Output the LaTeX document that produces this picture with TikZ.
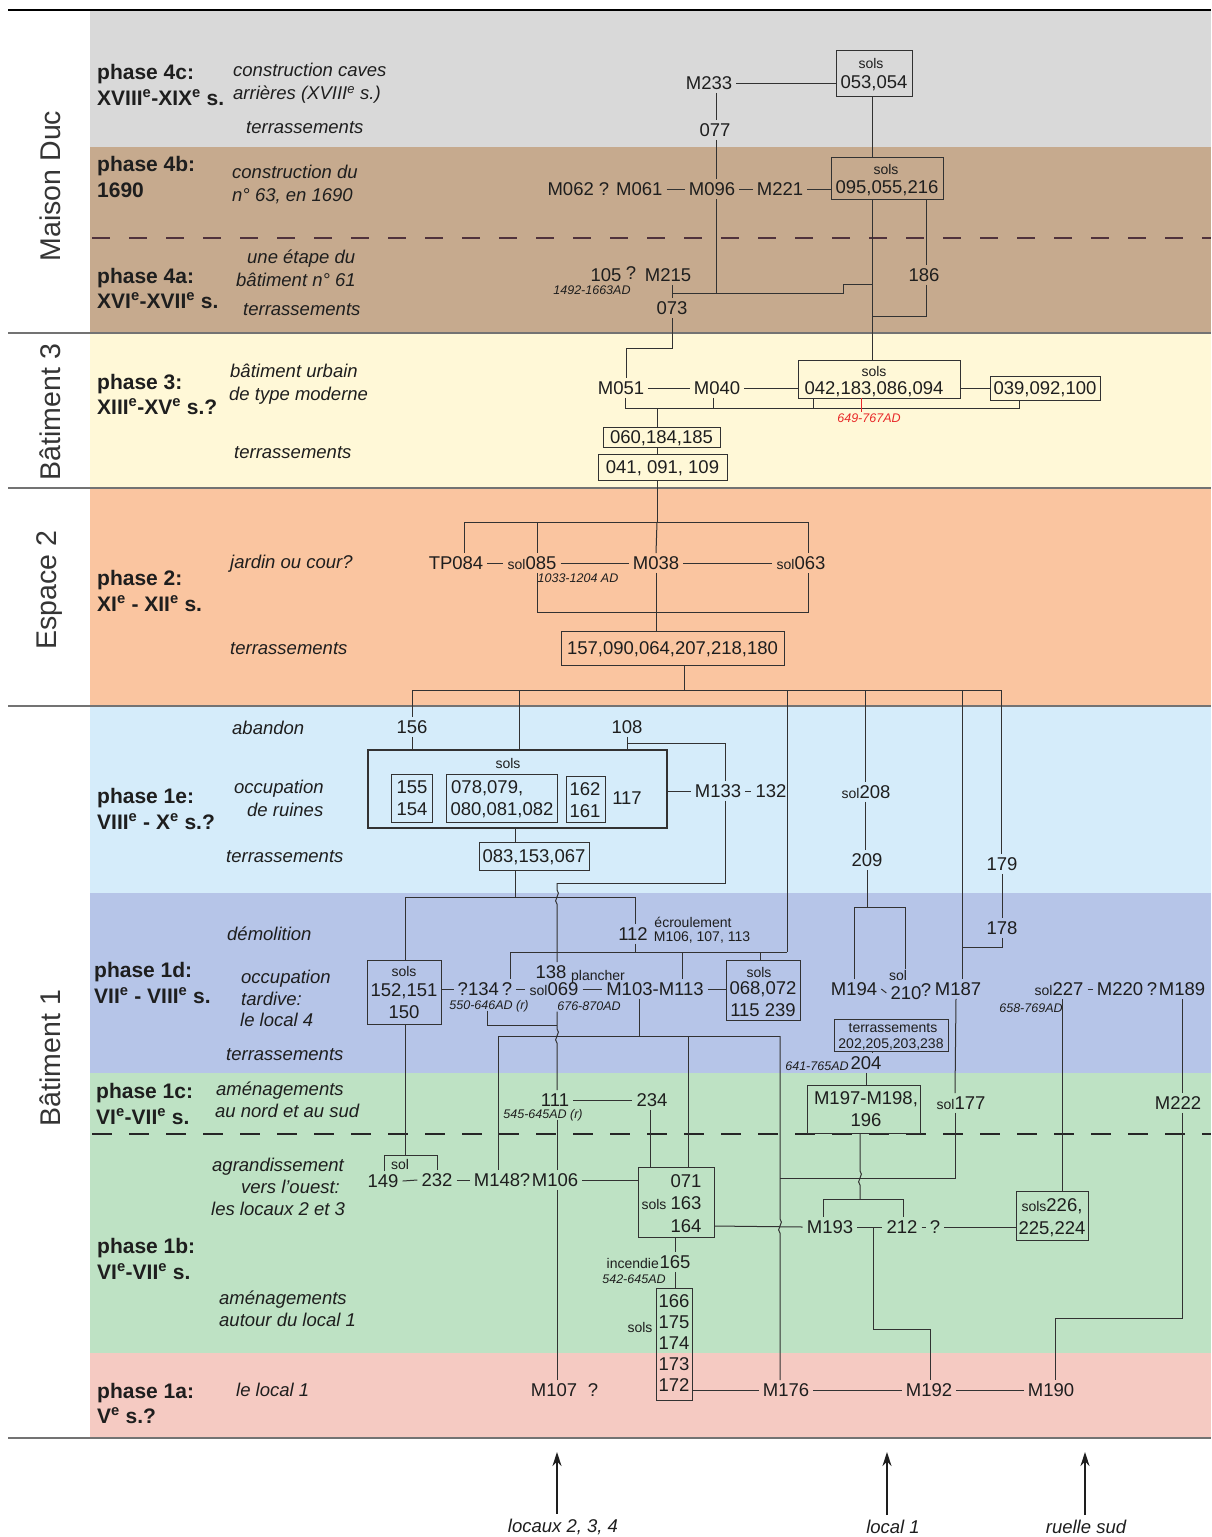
\documentclass[tikz,border=0pt]{standalone}
\usepackage{fontspec}
\setmainfont{Liberation Sans}
\usetikzlibrary{arrows.meta}
\definecolor{cgray}{RGB}{217,217,217}
\definecolor{cbrown}{RGB}{198,170,142}
\definecolor{cyel}{RGB}{255,248,215}
\definecolor{corg}{RGB}{250,197,160}
\definecolor{clblue}{RGB}{213,236,250}
\definecolor{cblue}{RGB}{182,197,232}
\definecolor{cgreen}{RGB}{190,226,196}
\definecolor{cpink}{RGB}{245,202,194}
\definecolor{txt}{RGB}{30,30,30}
\definecolor{lin}{RGB}{50,50,50}
\definecolor{cred}{RGB}{232,40,40}
\definecolor{cdash}{RGB}{80,50,60}
\newcommand\fbig{\fontsize{18.5}{21}\selectfont}
\newcommand\fsml{\fontsize{14}{16}\selectfont}
\newcommand\fdat{\fontsize{12.5}{14}\selectfont\itshape}
\newcommand\fphs{\fontsize{21}{26}\selectfont\bfseries}
\newcommand\fdsc{\fontsize{18.5}{23}\selectfont\itshape}
\newcommand\fside{\fontsize{28.5}{30}\selectfont}
\tikzset{
 nb/.style={font=\fbig, text=txt, inner xsep=4pt, inner ysep=3pt, text height=13.3pt, text depth=0pt},
 ns/.style={font=\fsml, text=txt, inner sep=1pt, text height=10pt, text depth=0pt},
 nd/.style={font=\fdat, text=txt, inner sep=1pt, text height=9pt, text depth=0pt},
 bx/.style={draw=lin, line width=1pt, inner sep=0pt, outer sep=0pt, text=txt, font=\fbig, text height=13.3pt, text depth=0pt},
 cn/.style={draw=lin, line width=1pt},
 ph/.style={font=\fphs, text=txt, anchor=west, inner sep=0pt, text height=15pt, text depth=0pt},
 ds/.style={font=\fdsc, text=txt, anchor=west, inner sep=0pt, text height=13.3pt, text depth=0pt},
 side/.style={font=\fside, text=txt!90, rotate=90},
 sep/.style={draw=black!55, line width=1.3pt},
 arr/.style={draw=txt, line width=1.3pt, -{Stealth[length=14pt,width=9pt]}},
}
\begin{document}
\begin{tikzpicture}[x=1pt,y=-1pt]
\useasboundingbox (0,0) rectangle (1211,1537);
\fill[white] (0,0) rectangle (1211,1537);
% ---------- bands
\fill[cgray] (90,10) rectangle (1211,147);
\fill[cbrown] (90,147) rectangle (1211,333);
\fill[cyel] (90,333) rectangle (1211,488);
\fill[corg] (90,488) rectangle (1211,706);
\fill[clblue] (90,706) rectangle (1211,893);
\fill[cblue] (90,893) rectangle (1211,1073);
\fill[cgreen] (90,1073) rectangle (1211,1353);
\fill[cpink] (90,1353) rectangle (1211,1438);
\draw[black, line width=1.3pt] (8,10) -- (1211,10);
\draw[sep] (8,333) -- (1211,333);
\draw[sep] (8,488) -- (1211,488);
\draw[sep] (8,706) -- (1211,706);
\draw[sep] (8,1438) -- (1211,1438);
\draw[cdash, line width=2pt, dash pattern=on 18pt off 19pt] (92,238) -- (1211,238);
\draw[black!85, line width=2pt, dash pattern=on 20pt off 17pt] (92,1134) -- (1211,1134);
% ---------- side labels
\node[side] (sMD) at (50,186) {Maison Duc};
\node[side] (sB3) at (50,412) {Bâtiment 3};
\node[side] (sE2) at (50,590) {Espace 2};
\node[side] (sB1) at (50,1058) {Bâtiment 1};
% ---------- phase labels
\node[ph] (p4c1) at (97,72) {phase 4c:};
\node[ph] (p4c2) at (97,98) {XVIII\textsuperscript{e}-XIX\textsuperscript{e} s.};
\node[ph] (p4b1) at (97,164) {phase 4b:};
\node[ph] (p4b2) at (97,190) {1690};
\node[ph] (p4a1) at (97,276) {phase 4a:};
\node[ph] (p4a2) at (97,301) {XVI\textsuperscript{e}-XVII\textsuperscript{e} s.};
\node[ph] (p31) at (97,382) {phase 3:};
\node[ph] (p32) at (97,407) {XIII\textsuperscript{e}-XV\textsuperscript{e} s.?};
\node[ph] (p21) at (97,578) {phase 2:};
\node[ph] (p22) at (97,604) {XI\textsuperscript{e} - XII\textsuperscript{e} s.};
\node[ph] (p1e1) at (97,796) {phase 1e:};
\node[ph] (p1e2) at (97,822) {VIII\textsuperscript{e} - X\textsuperscript{e} s.?};
\node[ph] (p1d1) at (94,970) {phase 1d:};
\node[ph] (p1d2) at (94,996) {VII\textsuperscript{e} - VIII\textsuperscript{e} s.};
\node[ph] (p1c1) at (96,1091) {phase 1c:};
\node[ph] (p1c2) at (96,1117) {VI\textsuperscript{e}-VII\textsuperscript{e} s.};
\node[ph] (p1b1) at (97,1246) {phase 1b:};
\node[ph] (p1b2) at (97,1272) {VI\textsuperscript{e}-VII\textsuperscript{e} s.};
\node[ph] (p1a1) at (97,1391) {phase 1a:};
\node[ph] (p1a2) at (97,1416) {V\textsuperscript{e} s.?};
% ---------- descriptions
\node[ds] (d01) at (233,70) {construction caves};
\node[ds] (d02) at (233,93) {arrières (XVIII\textsuperscript{e} s.)};
\node[ds] (d03) at (246,127) {terrassements};
\node[ds] (d04) at (232,172) {construction du};
\node[ds] (d05) at (232,195) {n° 63, en 1690};
\node[ds] (d06) at (247,257) {une étape du};
\node[ds] (d07) at (236,280) {bâtiment n° 61};
\node[ds] (d08) at (243,309) {terrassements};
\node[ds] (d09) at (230,371) {bâtiment urbain};
\node[ds] (d10) at (229,394) {de type moderne};
\node[ds] (d11) at (234,452) {terrassements};
\node[ds] (d12) at (230,562) {jardin ou cour?};
\node[ds] (d13) at (230,648) {terrassements};
\node[ds] (d14) at (232,728) {abandon};
\node[ds] (d15) at (234,787) {occupation};
\node[ds] (d16) at (247,810) {de ruines};
\node[ds] (d17) at (226,856) {terrassements};
\node[ds] (d18) at (227,934) {démolition};
\node[ds] (d19) at (241,977) {occupation};
\node[ds] (d20) at (241,999) {tardive:};
\node[ds] (d21) at (240,1020) {le local 4};
\node[ds] (d22) at (226,1054) {terrassements};
\node[ds] (d23) at (216,1089) {aménagements};
\node[ds] (d24) at (215,1111) {au nord et au sud};
\node[ds] (d25) at (212,1165) {agrandissement};
\node[ds] (d26) at (241,1187) {vers l'ouest:};
\node[ds] (d27) at (211,1209) {les locaux 2 et 3};
\node[ds] (d28) at (219,1298) {aménagements};
\node[ds] (d29) at (219,1320) {autour du local 1};
\node[ds] (d30) at (236,1390) {le local 1};
% ================= PHASE 4
\node[nb] (M233) at (709,83) {M233};
\node[bx, minimum width=76pt, minimum height=46pt] (b053) at (874,73) {};
\node[ns] (b053s) at (871,63) {sols};
\node[nb] (b053t) at (874,82) {053,054};
\node[nb] (n077) at (715,130) {077};
\node[nb] (M062) at (605,189) {M062 ? M061};
\node[nb] (M096) at (712,189) {M096};
\node[nb] (M221) at (780,189) {M221};
\node[bx, minimum width=112pt, minimum height=42pt] (b095) at (887,178) {};
\node[ns] (b095s) at (886,169) {sols};
\node[nb] (b095t) at (887,187) {095,055,216};
\node[nb] (n105) at (606,275) {105};
\node[nb] (q105) at (631,273) {?};
\node[nb] (M215) at (668,275) {M215};
\node[nd] (d1492) at (592,290) {1492-1663AD};
\node[nb] (n073) at (672,308) {073};
\node[nb] (n186) at (924,275) {186};
\coordinate (j293) at (672,293);
\coordinate (j716) at (716,293);
\coordinate (j843a) at (843,293);
\coordinate (j843b) at (843,284);
\coordinate (j284) at (872,284);
\coordinate (j316) at (872,316);
\coordinate (m348) at (672,348);
\draw[cn] (M233.east) -- (M233.east -| b053.west);
\draw[cn] ([xshift=7pt]M233.south) -- ([xshift=1pt]n077.north);
\draw[cn] ([xshift=1pt]n077.south) -- ([xshift=4pt]M096.north);
\draw[cn] ([xshift=-2pt]b053.south) -- ([xshift=-15pt]b095.north);
\draw[cn] (M062.east) -- (M096.west);
\draw[cn] (M096.east) -- (M221.west);
\draw[cn] (M221.east) -- (M221.east -| b095.west);
\draw[cn] ([xshift=4pt]M096.south) -- (j716);
\draw[cn] (M215.south -| j293) -- (j293) -- (j843a) -- (j843b) -- (j284);
\draw[cn] (j293) -- (n073.north);
\draw[cn] ([xshift=39pt]b095.south) -- ([xshift=2pt]n186.north);
\draw[cn] ([xshift=2pt]n186.south) |- (j316);
% ================= PHASE 3
\node[nb] (M051) at (621,388) {M051};
\node[nb] (M040) at (717,388) {M040};
\node[bx, minimum width=162pt, minimum height=38pt] (b042) at (879,379) {};
\node[ns] (b042s) at (874,371) {sols};
\node[nb] (b042t) at (874,388) {042,183,086,094};
\node[bx, minimum width=110pt, minimum height=24pt] (b039) at (1045,388) {039,092,100};
\node[nd, text=cred] (d649) at (869,418) {649-767AD};
\draw[cn] (n073.south) -- (m348) -| ([xshift=5pt]M051.north);
\draw[cn] ([xshift=-15pt]b095.south) -- ([xshift=-7pt]b042.north);
\draw[cn] (M051.east) -- (M040.west);
\draw[cn] (M040.east) -- (M040.east -| b042.west);
\draw[cn] (b042t.east -| b042.east) -- (b039.west);
\coordinate (k625) at (625,408);
\coordinate (k713) at (713,408);
\coordinate (k813) at (813,408);
\coordinate (k1019) at (1019,408);
\coordinate (d657) at (657,408);
\draw[cn] ([xshift=4pt]M051.south) -- (k625) -- (k1019) -- (b039.south -| k1019);
\draw[cn] ([xshift=-4pt]M040.south) -- (k713);
\draw[cn] (b042.south -| k813) -- (k813);
\draw[cred, line width=1pt] ([xshift=-18pt]b042.south) -- ([xshift=-8pt]d649.north);
\node[bx, minimum width=117pt, minimum height=20pt] (b060) at (661.5,437) {060,184,185};
\node[bx, minimum width=129pt, minimum height=26pt] (b041) at (662.5,467) {041, 091, 109};
\coordinate (j522) at (657,522);
\draw[cn] (d657) -- (b060.north -| d657);
\draw[cn] (b060.south -| d657) -- (b041.north -| d657);
\draw[cn] (b041.south -| d657) -- (j522);
% ================= PHASE 2
\node[nb] (TP084) at (456,563) {TP084};
\node[nb] (s085) at (532,563) {{\fsml sol}085};
\node[nb] (M038) at (656,563) {M038};
\node[nb] (s063) at (801,563) {{\fsml sol}063};
\node[nd] (d1033) at (578,578) {1033-1204 AD};
\coordinate (p464) at (464,522);
\coordinate (p537) at (537,522);
\coordinate (p808) at (808,522);
\coordinate (p537b) at (537,612);
\coordinate (p808b) at (808,612);
\draw[cn] (p464) -- (p808);
\draw[cn] (p464) -- (p464 |- TP084.north);
\draw[cn] (p537) -- (p537 |- s085.north);
\draw[cn] (p808) -- (p808 |- s063.north);
\draw[cn] (j522) -- (M038.north);
\draw[cn] (TP084.east) -- (s085.west);
\draw[cn] (s085.east) -- (M038.west);
\draw[cn] (M038.east) -- (s063.west);
\draw[cn] (p537 |- s085.south) -- (p537b) -- (p808b) -- (p808 |- s063.south);
\node[bx, minimum width=223pt, minimum height=34pt] (b157) at (672.5,648) {157,090,064,207,218,180};
\draw[cn] (M038.south) -- (M038.south |- b157.north);
\coordinate (j690) at (684,690);
\coordinate (q412) at (412,690);
\coordinate (q519) at (519,690);
\coordinate (q787) at (787,690);
\coordinate (q865) at (865,690);
\coordinate (q962) at (962,690);
\coordinate (q1001) at (1001,690);
\draw[cn] (b157.south -| j690) -- (j690);
\draw[cn] (q412) -- (q1001);
% ================= PHASE 1e
\node[nb] (n156) at (412,727) {156};
\node[nb] (n108) at (627,727) {108};
\node[bx, line width=2pt, minimum width=299pt, minimum height=78pt] (bsol) at (517.5,789) {};
\node[ns] (bsols) at (508,763) {sols};
\node[bx, minimum width=41pt, minimum height=48pt] (b155) at (411.5,798) {};
\node[nb] (n155) at (412,787) {155};
\node[nb] (n154) at (412,809) {154};
\node[bx, minimum width=111pt, minimum height=48pt] (b078) at (501.5,798) {};
\node[nb, anchor=west] (n078) at (447,787) {078,079,};
\node[nb] (n080) at (502,809) {080,081,082};
\node[bx, minimum width=39pt, minimum height=46pt] (b162) at (585.5,799) {};
\node[nb] (n162) at (585,789) {162};
\node[nb] (n161) at (585,811) {161};
\node[nb] (n117) at (627,798) {117};
\node[nb] (M133) at (718,791) {M133};
\node[nb] (n132) at (771,791) {132};
\node[bx, minimum width=110pt, minimum height=28pt] (b083) at (534,856) {083,153,067};
\coordinate (r743) at (627,743);
\coordinate (r725) at (725,743);
\coordinate (r883) at (725,883);
\coordinate (k883) at (557,883);
\draw[cn] (q412) -- (n156.north);
\draw[cn] (n156.south) -- (n156.south |- bsol.north);
\draw[cn] (q519) -- (q519 |- bsol.north);
\draw[cn] (n108.south) -- (n108.south |- bsol.north);
\draw[cn] (r743) -- (r725) -- ([xshift=7pt]M133.north);
\draw[cn] ([xshift=7pt]M133.south) -- (r883) -- (k883);
\draw[cn] (bsol.east |- M133) -- (M133.west);
\draw[cn] (M133.east) -- (n132.west);
\draw[cn] ([xshift=-2.5pt]bsol.south) -- ([xshift=-19pt]b083.north);
\coordinate (s897) at (515,897);
\coordinate (s405) at (405,897);
\coordinate (s635) at (635,897);
\draw[cn] ([xshift=-19pt]b083.south) -- (s897);
\draw[cn] (s405) -- (s635);
\node[nb] (s208) at (866,792) {{\fsml sol}208};
\node[nb] (n209) at (867,860) {209};
\node[nb] (n179) at (1002,864) {179};
\node[nb] (n178) at (1002,928) {178};
\draw[cn] (q865) -- (q865 |- s208.north);
\draw[cn] (s208.south -| q865) -- (n209.north -| q865);
\draw[cn] (q1001) -- (q1001 |- n179.north);
\draw[cn] (n179.south) -- (n178.north);
\coordinate (t787) at (787,952);
\coordinate (t947) at (962,947);
\draw[cn] (q787) -- (t787);
\draw[cn] (n178.south) |- (t947);
% ================= PHASE 1d
\node[nb] (n112) at (633,934) {112};
\node[ns] (ecr) at (693,922) {écroulement};
\node[ns] (m106s) at (702,936) {M106, 107, 113};
\coordinate (t635) at (635,952);
\coordinate (t510) at (510,952);
\coordinate (t682) at (682,952);
\coordinate (t760) at (760,952);
\draw[cn] (s635) -- (s635 |- n112.north);
\draw[cn] (s635 |- n112.south) -- (t635);
\draw[cn] (t510) -- (t787);
\node[bx, minimum width=74pt, minimum height=64pt] (b152) at (404,992) {};
\node[ns] (b152s) at (404,971) {sols};
\node[nb] (b152a) at (404,990) {152,151};
\node[nb] (b152b) at (404,1012) {150};
\node[nb] (q134) at (485,989) {?134\,?};
\node[nd] (d550) at (489,1005) {550-646AD (r)};
\node[nb] (s069) at (554,989) {{\fsml sol}069};
\node[nb] (n138) at (551,972) {138};
\node[ns] (planch) at (598,975) {plancher};
\node[nd] (d676) at (589,1006) {676-870AD};
\node[nb] (M103) at (655,989) {M103-M113};
\node[bx, minimum width=74pt, minimum height=60pt] (b068) at (763,990) {};
\node[ns] (b068s) at (759,972) {sols};
\node[nb] (b068a) at (763,988) {068,072};
\node[nb] (b068b) at (763,1010) {115 239};
\draw[cn] (s405) -- (s405 |- b152.north);
\draw[cn] (t510) -- (t510 |- q134.north);
\draw[cn] (t682) -- (t682 |- M103.north);
\draw[cn] (t760) -- (t760 |- b068.north);
\draw[cn] (b152.east |- q134) -- (q134.west);
\draw[cn] (q134.east) -- (s069.west);
\draw[cn] (s069.east) -- (M103.west);
\draw[cn] (M103.east) -- (M103.east -| b068.west);
\coordinate (u487) at (487,1025);
\coordinate (u557) at (557,1025);
\draw[cn] (d550.south -| u487) -- (u487) -- (u557);
\coordinate (v639) at (639,1036);
\coordinate (v498) at (498,1036);
\coordinate (v688) at (688,1036);
\coordinate (v780) at (780,1036);
\draw[cn] (M103.south -| v639) -- (v639);
\draw[cn] (v498) -- (v780);
% right side 1d
\node[nb] (M194) at (854,989) {M194};
\node[nb] (n210) at (906,993) {210};
\node[ns] (s210) at (898,975) {sol};
\node[nb] (q210) at (926,990) {?};
\node[nb] (M187) at (958,989) {M187};
\coordinate (w854) at (854,907);
\coordinate (w905) at (905,907);
\coordinate (w867) at (867,907);
\draw[cn] (M194.east) -- (n210.west);
\draw[cn] (M194.north) -- (w854) -- (w905) -- (w905 |- s210.north);
\draw[cn] (n209.south -| w867) -- (w867);
\draw[cn] (q962) -- (q962 |- M187.north);
\node[nb] (s227) at (1059,989) {{\fsml sol}227};
\node[nb] (M220) at (1120,989) {M220};
\node[nb] (q220) at (1152,989) {?};
\node[nb] (M189) at (1182,989) {M189};
\node[nd] (d658) at (1031,1008) {658-769AD};
\draw[cn] (s227.east) -- (M220.west);
\node[bx, minimum width=114pt, minimum height=32pt] (bter) at (891,1035) {};
\node[ns] (bters) at (893,1027) {terrassements};
\node[ns] (btert) at (891,1043) {202,205,203,238};
\node[nb] (n204) at (866,1063) {204};
\node[nd] (d641) at (817,1066) {641-765AD};
\draw[cn] ([xshift=-19pt]bter.south) -- ([xshift=6pt]n204.north);
% ================= PHASE 1c
\node[nb] (n111) at (555,1100) {111};
\node[nd] (d545) at (543,1114) {545-645AD (r)};
\node[nb] (n234) at (652,1100) {234};
\draw[cn] (n111.east) -- (n234.west);
\node[bx, minimum width=113pt, minimum height=48pt] (bM197) at (863.5,1109) {};
\node[nb] (M197a) at (866,1098) {M197-M198,};
\node[nb] (M197b) at (866,1120) {196};
\draw[cn] (n204.south) -- (n204.south |- bM197.north);
\node[nb] (s177) at (961,1103) {{\fsml sol}177};
\node[nb] (M222) at (1178,1103) {M222};
\draw[cn] ([xshift=-2pt]M187.south) -- ([xshift=-6pt]s177.north);
\draw[cn] (M189.south) -- (M189.south |- M222.north);
\coordinate (a955) at (955,1178);
\coordinate (a780) at (780,1178);
\draw[cn] ([xshift=-6pt]s177.south) -- (a955) -- (a780);
% ================= PHASE 1b
\node[nb] (n149) at (383,1181) {149};
\node[nb] (n232) at (437,1180) {232};
\node[ns] (s149) at (400,1164) {sol};
\node[nb] (M148) at (497,1180) {M148};
\node[nb] (q148) at (525,1180) {?};
\node[nb] (M106) at (555,1180) {M106};
\coordinate (c384) at (384,1155);
\coordinate (c437) at (437,1155);
\coordinate (c405) at (405,1155);
\draw[cn] (b152.south -| c405) -- (c405);
\draw[cn] (c384 |- n149.north) -- (c384) -- (c437) -- (n232.north);
\draw[cn] (n149.east) -- (n232.west);
\draw[cn] (n232.east) -- (M148.west);
\draw[cn] (v498) -- (v498 |- M148.north);
\node[bx, minimum width=76pt, minimum height=70pt] (b071) at (676,1202) {};
\node[nb] (n071) at (686,1181) {071};
\node[nb] (n163) at (686,1203) {163};
\node[nb] (n164) at (686,1226) {164};
\node[ns] (s163) at (654,1204) {sols};
\draw[cn] (M106.east) -- (M106.east -| b071.west);
\draw[cn] ([xshift=-2pt]n234.south) |- (b071.north);
\draw[cn] (v688) -- (v688 |- b071.north);
\node[nb] (M193) at (830,1227) {M193};
\node[nb] (n212) at (902,1227) {212};
\node[nb] (q212) at (935,1227) {?};
\node[bx, minimum width=72pt, minimum height=49pt] (b226) at (1052,1215.5) {};
\node[nb] (b226a) at (1052,1205) {{\fsml sols}226,};
\node[nb] (b226b) at (1052,1228) {225,224};
\draw[cn] (b071.east |- n164) -- (M193.west);
\draw[cn] (M193.east) -- (n212.west);
\draw[cn] (n212.east) -- (q212.west);
\draw[cn] (q212.east) -- (q212.east -| b226.west);
\draw[cn] ([xshift=3pt]s227.south) |- (b226.north);
\coordinate (z860) at (860,1199);
\coordinate (z823) at (823,1199);
\coordinate (z903) at (903,1199);
\draw[cn] ([xshift=-3.5pt]bM197.south) -- ++(0,38) .. controls +(5,3) and +(-5,-3) .. ++(0,14) -- (z860);
\draw[cn] (z823) -- (z903);
\draw[cn] (z823) -- (z823 |- M193.north);
\draw[cn] (z903) -- (z903 |- n212.north);
\node[nb] (n165) at (675,1262) {165};
\node[ns, anchor=base east, inner sep=0pt] (incd) at (659,1268.6) {incendie};
\node[nd] (d542) at (634,1279) {542-645AD};
\node[bx, minimum width=36pt, minimum height=112pt] (b166) at (674,1344) {};
\node[nb] (n166) at (674,1301) {166};
\node[nb] (n175) at (674,1322) {175};
\node[nb] (n174) at (674,1343) {174};
\node[nb] (n173) at (674,1364) {173};
\node[nb] (n172) at (674,1385) {172};
\node[ns] (s166) at (640,1327) {sols};
\draw[cn] ([xshift=-1pt]b071.south) -- (n165.north);
\draw[cn] (n165.south) -- (n165.south |- b166.north);
% ================= PHASE 1a
\node[nb] (M107) at (554,1390) {M107};
\node[nb] (q107) at (593,1390) {?};
\node[nb] (M176) at (786,1390) {M176};
\node[nb] (M192) at (929,1390) {M192};
\node[nb] (M190) at (1051,1390) {M190};
\draw[cn] (b166.east |- M176) -- (M176.west);
\draw[cn] (M176.east) -- (M192.west);
\draw[cn] (M192.east) -- (M190.west);
\coordinate (f873) at (873,1227);
\coordinate (f873b) at (873,1329);
\coordinate (f930) at (930,1329);
\draw[cn] (f873) -- (f873b) -- (f930) -- (f930 |- M192.north);
\coordinate (y1318a) at (1182,1318);
\coordinate (y1318b) at (1055,1318);
\draw[cn] (M222.south -| y1318a) -- (y1318a) -- (y1318b) -- (y1318b |- M190.north);
% long vertical x=557 with hops
\draw[cn] (k883) -- ++(0,7) .. controls +(5,3) and +(-5,-3) .. ++(0,14) -- (k883 |- n138.north);
\draw[cn] (k883 |- d676.south) -- (u557) -- ++(0,4) .. controls +(5,3) and +(-5,-3) .. ++(0,14) -- (k883 |- n111.north);
\draw[cn] (k883 |- d545.south) -- (k883 |- M106.north);
\draw[cn] (k883 |- M106.south) -- (k883 |- M107.north);
% long vertical x=780 with hop
\draw[cn] (v780) -- (780,1219) .. controls +(5,3) and +(-5,-3) .. (780,1233) -- (v780 |- M176.north);
% ---------- bottom arrows
\node[font=\fdsc, text=txt, inner sep=1pt] (lab1) at (563,1527) {locaux 2, 3, 4};
\node[font=\fdsc, text=txt, inner sep=1pt] (lab2) at (893,1527) {local 1};
\node[font=\fdsc, text=txt, inner sep=1pt] (lab3) at (1086,1527) {ruelle sud};
\coordinate (ar1) at (557,1452);
\coordinate (ar2) at (887,1452);
\coordinate (ar3) at (1085,1452);
\draw[arr] (lab1.north -| ar1) ++(0,-4) -- (ar1);
\draw[arr] (lab2.north -| ar2) ++(0,-4) -- (ar2);
\draw[arr] (lab3.north -| ar3) ++(0,-4) -- (ar3);
\end{tikzpicture}
\end{document}
